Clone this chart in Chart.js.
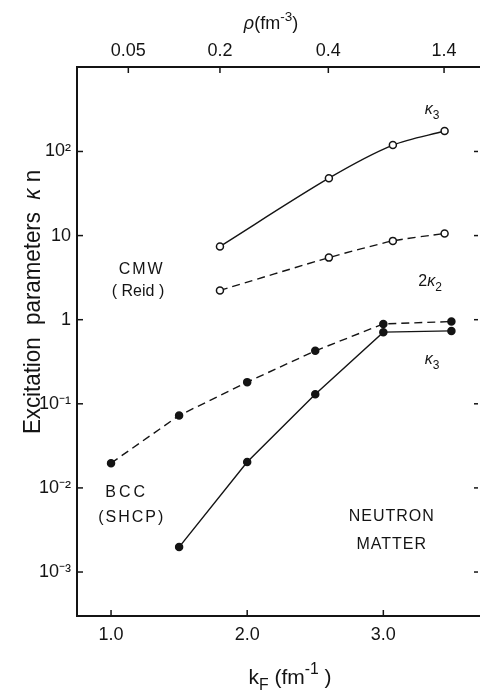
<!DOCTYPE html>
<html>
<head>
<meta charset="utf-8">
<script src="https://cdn.jsdelivr.net/npm/chart.js@4.4.0/dist/chart.umd.min.js"></script>
<style>
  html, body { margin: 0; padding: 0; background: #fff; }
  #wrap { width: 480px; height: 694px; }
</style>
</head>
<body>
<div id="wrap"><canvas id="chart"></canvas></div>
<script>
// values (kF in fm^-1, kappa on a log scale)
const kFBcc = [1.0, 1.5, 2.0, 2.5, 3.0, 3.5];
const bcc2K2 = [0.0197, 0.0726, 0.181, 0.426, 0.891, 0.95];
const kFBccK3 = [1.5, 2.0, 2.5, 3.0, 3.5];
const bccK3 = [0.00198, 0.0203, 0.13, 0.711, 0.736];

const kFReid = [1.8, 2.6, 3.07, 3.45];
const reidK3 = [7.43, 48.1, 119, 175];
const reid2K2 = [2.23, 5.47, 8.65, 10.6];

const bottomTicks = [1, 2, 3];
const bottomTickLabels = ["1.0", "2.0", "3.0"];
// top density axis: kF position of each density tick
const topTicks = [1.127, 1.8, 2.596, 3.446];
const topTickLabels = ["0.05", "0.2", "0.4", "1.4"];
const yTicks = [1e-3, 1e-2, 1e-1, 1, 10, 100];
const yTickLabels = ["10\u207B\u00B3", "10\u207B\u00B2", "10\u207B\u00B9", "1", "10", "10\u00B2"];

const ink = "#141414";
const font = "'Liberation Sans', Arial, sans-serif";

const toXY = (xs, ys) => xs.map((x, i) => ({ x, y: ys[i] }));

// text labels placed in data coordinates
const notes = [
  { parts: [{ t: "\u03BA", it: true }, { t: "3", sub: true }], x: 3.358, y: 311 },
  { parts: [{ t: "2" }, { t: "\u03BA", it: true }, { t: "2", sub: true }], x: 3.343, y: 2.81 },
  { parts: [{ t: "\u03BA", it: true }, { t: "3", sub: true }], x: 3.358, y: 0.333 },
  { parts: [{ t: "CMW" }], x: 1.225, y: 3.91, spacing: 2 },
  { parts: [{ t: "( Reid )" }], x: 1.198, y: 2.14 },
  { parts: [{ t: "BCC" }], x: 1.115, y: 0.00875, spacing: 3 },
  { parts: [{ t: "(SHCP)" }], x: 1.152, y: 0.00441, spacing: 2 },
  { parts: [{ t: "NEUTRON" }], x: 3.062, y: 0.00458, spacing: 1 },
  { parts: [{ t: "MATTER" }], x: 3.062, y: 0.00211, spacing: 1 },
];

const drawRich = (ctx, parts, x, y, size, spacing) => {
  ctx.letterSpacing = (spacing || 0) + "px";
  const fontFor = (p) =>
    (p.it ? "italic " : "") + (p.sub || p.sup ? size * 0.75 : size) + "px " + font;
  let total = 0;
  parts.forEach((p) => {
    ctx.font = fontFor(p);
    total += ctx.measureText(p.t).width;
  });
  let cx = x - total / 2;
  parts.forEach((p) => {
    ctx.font = fontFor(p);
    const dy = p.sub ? size * 0.35 : p.sup ? -size * 0.4 : 0;
    ctx.fillText(p.t, cx, y + dy);
    cx += ctx.measureText(p.t).width;
  });
  ctx.letterSpacing = "0px";
};

const decor = {
  id: "decor",
  afterDraw(chart) {
    const { ctx, chartArea: a, scales } = chart;
    ctx.save();
    ctx.strokeStyle = ink;
    ctx.fillStyle = ink;
    ctx.lineWidth = 1.5;
    const seg = (x1, y1, x2, y2) => {
      ctx.beginPath();
      ctx.moveTo(x1, y1);
      ctx.lineTo(x2, y2);
      ctx.stroke();
    };
    // inward ticks on all four sides
    bottomTicks.forEach((v) => {
      const px = scales.x.getPixelForValue(v);
      seg(px, a.bottom, px, a.bottom - 6);
    });
    topTicks.forEach((v) => {
      const px = scales.xTop.getPixelForValue(v);
      seg(px, a.top, px, a.top + 6);
    });
    yTicks.forEach((v) => {
      const py = scales.y.getPixelForValue(v);
      seg(a.left, py, a.left + 6, py);
      seg(a.right - 2, py, a.right - 6, py);
    });

    ctx.textBaseline = "middle";
    notes.forEach((n) => {
      drawRich(ctx, n.parts, scales.x.getPixelForValue(n.x), scales.y.getPixelForValue(n.y), 16, n.spacing);
    });

    // axis titles
    drawRich(ctx, [{ t: "k" }, { t: "F", sub: true }, { t: " (fm" }, { t: "-1", sup: true }, { t: " )" }],
      290, 678, 21);
    drawRich(ctx, [{ t: "\u03C1", it: true }, { t: "(fm" }, { t: "-3", sup: true }, { t: ")" }],
      271, 24, 18);
    ctx.translate(33, 302);
    ctx.rotate(-Math.PI / 2);
    ctx.scale(0.93, 1);
    drawRich(ctx, [{ t: "Excitation  parameters  " }, { t: "\u03BA", it: true }, { t: " n" }], 0, 0, 24);
    ctx.restore();
  },
};

const series = (data, open, tension) => ({
  data,
  borderColor: ink,
  borderWidth: 1.4,
  pointRadius: 3.5,
  pointBorderWidth: 1.5,
  pointBorderColor: ink,
  pointBackgroundColor: open ? "#fff" : ink,
  tension,
});

const noPad = (s) => { s.paddingLeft = 0; s.paddingRight = 0; };

new Chart(document.getElementById("chart"), {
  type: "line",
  data: {
    datasets: [
      series(toXY(kFReid, reidK3), true, 0.3),
      { ...series(toXY(kFReid, reid2K2), true, 0.2), borderDash: [8, 5] },
      { ...series(toXY(kFBcc, bcc2K2), false, 0), borderDash: [8, 5] },
      series(toXY(kFBccK3, bccK3), false, 0),
    ],
  },
  options: {
    responsive: true,
    maintainAspectRatio: false,
    animation: false,
    layout: { padding: 0, autoPadding: false },
    plugins: { legend: { display: false }, tooltip: { enabled: false } },
    scales: {
      x: {
        type: "linear",
        position: "bottom",
        min: 0.75,
        max: 3.71,
        grid: { display: false, drawTicks: false },
        border: { display: true, color: ink, width: 2 },
        afterBuildTicks: (s) => { s.ticks = bottomTicks.map((value) => ({ value })); },
        afterFit: (s) => { s.height = 78; noPad(s); },
        ticks: {
          color: ink,
          padding: 8,
          font: { family: font, size: 18 },
          callback: (v) => bottomTickLabels[bottomTicks.indexOf(v)],
        },
      },
      xTop: {
        type: "linear",
        position: "top",
        min: 0.75,
        max: 3.71,
        grid: { display: false, drawTicks: false },
        border: { display: true, color: ink, width: 2 },
        afterBuildTicks: (s) => { s.ticks = topTicks.map((value) => ({ value })); },
        afterFit: (s) => { s.height = 67; noPad(s); },
        ticks: {
          color: ink,
          padding: 5,
          font: { family: font, size: 18 },
          callback: (v) => topTickLabels[topTicks.indexOf(v)],
        },
      },
      y: {
        type: "logarithmic",
        min: 3.0e-4,
        max: 1010,
        grid: { display: false, drawTicks: false },
        border: { display: true, color: ink, width: 2 },
        afterBuildTicks: (s) => { s.ticks = yTicks.map((value) => ({ value })); },
        afterFit: (s) => { s.width = 77; s.paddingTop = 0; s.paddingBottom = 0; },
        ticks: {
          color: ink,
          padding: 6,
          font: { family: font, size: 18 },
          callback: (v) => yTickLabels[yTicks.indexOf(v)],
        },
      },
    },
  },
  plugins: [decor],
});
</script>
</body>
</html>
